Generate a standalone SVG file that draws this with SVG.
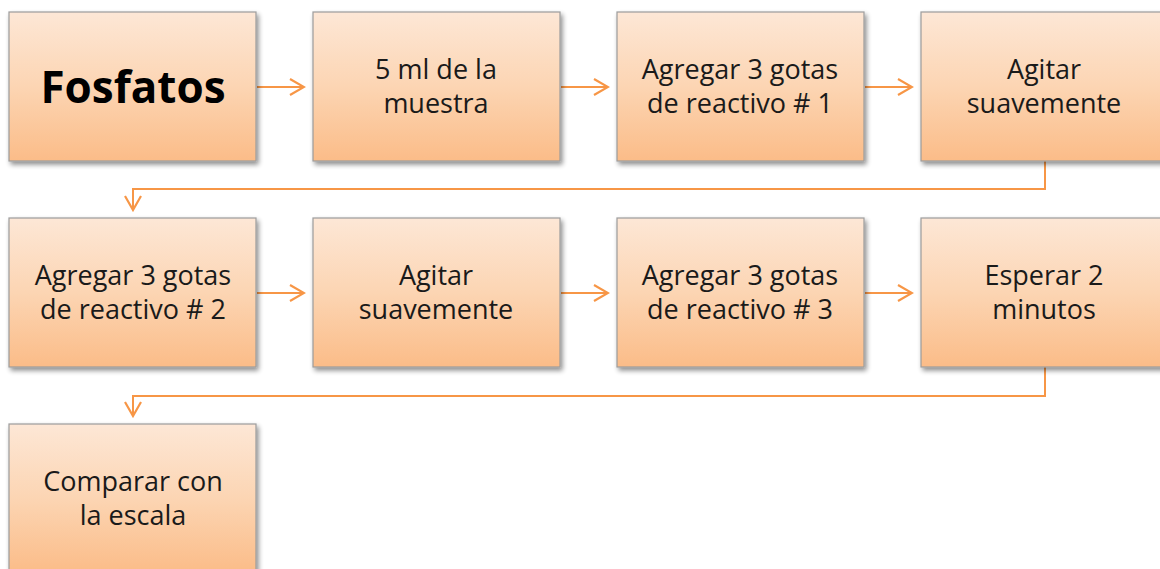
<svg xmlns="http://www.w3.org/2000/svg" width="1160" height="569" viewBox="0 0 1160 569">
<defs>
<linearGradient id="g" x1="0" y1="0" x2="0" y2="1">
<stop offset="0" stop-color="#FDE7D6"/>
<stop offset="0.5" stop-color="#FCD5B3"/>
<stop offset="1" stop-color="#FBBC88"/>
</linearGradient>
<filter id="sh" x="-10%" y="-10%" width="130%" height="130%">
<feGaussianBlur in="SourceAlpha" stdDeviation="2.5"/>
<feOffset dx="2" dy="3" result="b"/>
<feComponentTransfer><feFuncA type="linear" slope="0.45"/></feComponentTransfer>
<feMerge><feMergeNode/><feMergeNode in="SourceGraphic"/></feMerge>
</filter>
<marker id="ah" viewBox="0 0 20 20" refX="18" refY="10" markerWidth="20" markerHeight="20" markerUnits="userSpaceOnUse" orient="auto">
<path d="M4,2 L18,10 L4,18" fill="none" stroke="#F79646" stroke-width="2.2"/>
</marker>
</defs>
<style>
.box{fill:url(#g);stroke:#9C9C9C;stroke-width:1.2;filter:url(#sh)}
.t{font-family:"Open Sans","DejaVu Sans",sans-serif;font-size:27px;fill:#1a1a1a;text-anchor:middle}
.big{font-family:"Open Sans","DejaVu Sans",sans-serif;font-size:44px;font-weight:bold;fill:#000;text-anchor:middle}
.c{fill:none;stroke:#F79646;stroke-width:2;marker-end:url(#ah)}
</style>
<rect width="1160" height="569" fill="#fff"/>
<g id="connectors">
<line class="c" x1="257" y1="87" x2="304" y2="87"/>
<line class="c" x1="561" y1="87" x2="608" y2="87"/>
<line class="c" x1="865" y1="87" x2="912" y2="87"/>
<polyline class="c" points="1045,161 1045,189 133,189 133,210"/>
<line class="c" x1="257" y1="293" x2="304" y2="293"/>
<line class="c" x1="561" y1="293" x2="608" y2="293"/>
<line class="c" x1="865" y1="293" x2="912" y2="293"/>
<polyline class="c" points="1045,367 1045,396 133,396 133,416"/>
</g>
<g id="n1"><rect class="box" x="9" y="12" width="247" height="149"/><text class="big" x="133" y="103">Fosfatos</text></g>
<g id="n2"><rect class="box" x="313" y="12" width="247" height="149"/><text class="t" x="436" y="79">5 ml de la</text><text class="t" x="436" y="113">muestra</text></g>
<g id="n3"><rect class="box" x="617" y="12" width="247" height="149"/><text class="t" x="740" y="79">Agregar 3 gotas</text><text class="t" x="740" y="113">de reactivo # 1</text></g>
<g id="n4"><rect class="box" x="921" y="12" width="247" height="149"/><text class="t" x="1044" y="79">Agitar</text><text class="t" x="1044" y="113">suavemente</text></g>
<g id="n5"><rect class="box" x="9" y="218" width="247" height="149"/><text class="t" x="133" y="285">Agregar 3 gotas</text><text class="t" x="133" y="319">de reactivo # 2</text></g>
<g id="n6"><rect class="box" x="313" y="218" width="247" height="149"/><text class="t" x="436" y="285">Agitar</text><text class="t" x="436" y="319">suavemente</text></g>
<g id="n7"><rect class="box" x="617" y="218" width="247" height="149"/><text class="t" x="740" y="285">Agregar 3 gotas</text><text class="t" x="740" y="319">de reactivo # 3</text></g>
<g id="n8"><rect class="box" x="921" y="218" width="247" height="149"/><text class="t" x="1044" y="285">Esperar 2</text><text class="t" x="1044" y="319">minutos</text></g>
<g id="n9"><rect class="box" x="9" y="424" width="247" height="149"/><text class="t" x="133" y="491">Comparar con</text><text class="t" x="133" y="525">la escala</text></g>
</svg>
